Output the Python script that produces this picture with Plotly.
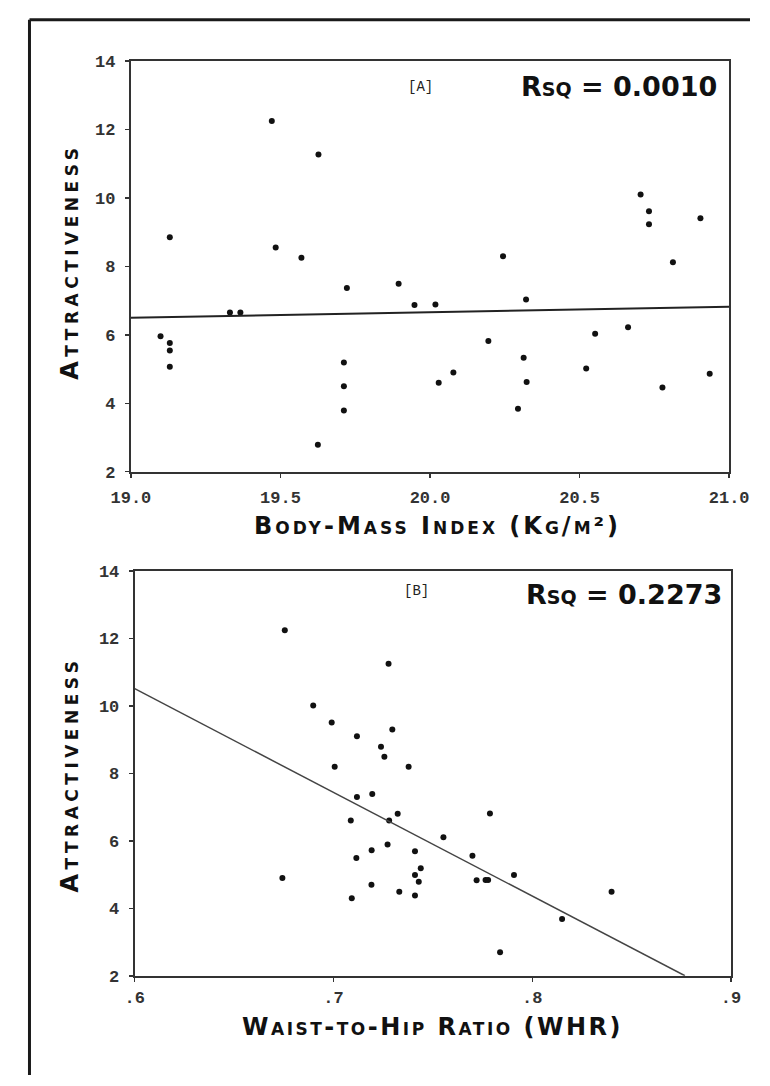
import plotly.graph_objects as go

W, H = 770, 1086
OFF = 0

# ---------------- Data ----------------
bmi = [19.099, 19.13, 19.13, 19.13, 19.13, 19.331, 19.366, 19.471, 19.484, 19.57,
       19.627, 19.625, 19.712, 19.712, 19.712, 19.722, 19.895, 19.948,
       20.018, 20.244, 20.321, 20.704, 20.732, 20.732, 20.904, 20.812, 20.195,
       20.313, 20.323, 20.294, 20.029, 20.078, 20.552, 20.522, 20.662, 20.777, 20.935]
attr_a = [5.96, 8.85, 5.76, 5.54, 5.07, 6.65, 6.65, 12.25, 8.55, 8.25,
          11.27, 2.79, 5.19, 4.50, 3.79, 7.37, 7.49, 6.87,
          6.89, 8.30, 7.03, 10.10, 9.61, 9.23, 9.41, 8.12, 5.82,
          5.33, 4.62, 3.84, 4.60, 4.90, 6.03, 5.02, 6.22, 4.46, 4.86]

whr = [0.6755, 0.6743, 0.6898, 0.6991, 0.7006, 0.7118, 0.7118, 0.7087, 0.7115, 0.7092,
       0.7192, 0.7191, 0.7195, 0.7239, 0.7256, 0.7277, 0.7296, 0.7280, 0.7323, 0.7272,
       0.7331, 0.7378, 0.7410, 0.7410, 0.7410, 0.7553, 0.7439, 0.7429, 0.7787, 0.7699,
       0.7720, 0.7765, 0.7778, 0.7908, 0.8150, 0.8399, 0.7838]
attr_b = [12.24, 4.90, 10.01, 9.51, 8.20, 9.10, 7.30, 6.60, 5.49, 4.30,
          5.72, 4.70, 7.39, 8.79, 8.49, 11.25, 9.30, 6.60, 6.80, 5.89,
          4.49, 8.20, 5.69, 4.99, 4.38, 6.11, 5.19, 4.79, 6.81, 5.56,
          4.83, 4.84, 4.84, 4.99, 3.68, 4.49, 2.70]

fit_a_x = [19.0, 21.0]
fit_a_y = [6.50, 6.82]
fit_b_x = [0.6, 0.8768]
fit_b_y = [10.51, 2.0]

ytick_vals = [2, 4, 6, 8, 10, 12, 14]
bmi_ticks = [19.0, 19.5, 20.0, 20.5, 21.0]
bmi_ticktext = ["19.0", "19.5", "20.0", "20.5", "21.0"]
whr_ticks = [0.6, 0.7, 0.8, 0.9]
whr_ticktext = [".6", ".7", ".8", ".9"]

label_a = "[A]"
label_b = "[B]"
rsq_a = "Rsq = 0.0010"
rsq_b = "Rsq = 0.2273"
ytitle = "Attractiveness"
xtitle_a = "Body-Mass Index (Kg/m²)"
xtitle_b = "Waist-to-Hip Ratio (WHR)"


def px(x):
    return (x - OFF) / W


def py(y):
    return 1 - (y - OFF) / H


def spaced(t, s):
    return "<span style='letter-spacing:%spx'>%s</span>" % (s, t)


fig = go.Figure()

fig.add_trace(go.Scatter(x=bmi, y=attr_a, mode="markers", xaxis="x", yaxis="y",
                         marker=dict(color="#111", size=6), showlegend=False,
                         cliponaxis=False, hoverinfo="skip"))
fig.add_trace(go.Scatter(x=fit_a_x, y=fit_a_y, mode="lines", xaxis="x", yaxis="y",
                         line=dict(color="#222", width=2), showlegend=False,
                         hoverinfo="skip"))
fig.add_trace(go.Scatter(x=whr, y=attr_b, mode="markers", xaxis="x2", yaxis="y2",
                         marker=dict(color="#111", size=6), showlegend=False,
                         cliponaxis=False, hoverinfo="skip"))
fig.add_trace(go.Scatter(x=fit_b_x, y=fit_b_y, mode="lines", xaxis="x2", yaxis="y2",
                         line=dict(color="#444", width=1.5), showlegend=False,
                         hoverinfo="skip"))

tickfont = dict(family="Liberation Mono", size=17, color="#333", weight="bold")
axis_common = dict(showline=True, mirror=True, linecolor="#333", linewidth=2,
                   showgrid=False, zeroline=False, ticks="outside", ticklen=4,
                   tickcolor="#333", tickwidth=1.5, tickfont=tickfont)

fig.update_layout(
    width=W, height=H,
    margin=dict(l=0, r=0, t=0, b=0),
    paper_bgcolor="white", plot_bgcolor="white",
    hovermode=False,
    xaxis=dict(domain=[px(117), px(748)], range=[19.0, 21.0], anchor="y",
               tickvals=bmi_ticks, ticktext=bmi_ticktext, ticklabelstandoff=5,
               **axis_common),
    yaxis=dict(domain=[py(472), py(54)], range=[2, 14], anchor="x",
               tickvals=ytick_vals, ticklabelstandoff=6, **axis_common),
    xaxis2=dict(domain=[px(121), px(750)], range=[0.6, 0.9], anchor="y2",
                tickvals=whr_ticks, ticktext=whr_ticktext, ticklabelstandoff=1,
                **axis_common),
    yaxis2=dict(domain=[py(985), py(573)], range=[2, 14], anchor="x2",
                tickvals=ytick_vals, ticklabelstandoff=6, **axis_common),
)

title_font = dict(family="DejaVu Sans", size=24, color="#111", weight="bold",
                  variant="small-caps")
rsq_font = dict(family="DejaVu Sans", size=27, color="#111", weight="bold",
                variant="small-caps")
lab_font = dict(family="Liberation Mono", size=14, color="#222")

ann = []
ann.append(dict(x=px(422), y=py(80), text=label_a, font=lab_font))
ann.append(dict(x=px(418), y=py(593), text=label_b, font=lab_font))
ann.append(dict(x=px(632), y=py(80), text=rsq_a, font=rsq_font))
ann.append(dict(x=px(637), y=py(597), text=rsq_b, font=rsq_font))
ann.append(dict(x=px(53), y=py(258), text=spaced(ytitle, 4.5), font=title_font, textangle=-90))
ann.append(dict(x=px(53), y=py(780), text=spaced(ytitle, 4.5), font=title_font, textangle=-90))
ann.append(dict(x=px(440), y=py(527), text=spaced(xtitle_a, 3), font=title_font))
ann.append(dict(x=px(435), y=py(1037), text=spaced(xtitle_b, 2.5), font=title_font))
for a in ann:
    a.update(xref="paper", yref="paper", showarrow=False, xanchor="center", yanchor="middle")
fig.update_layout(annotations=ann)

# outer frame of the figure page (top and left edges visible)
fig.add_shape(type="line", xref="paper", yref="paper",
              x0=px(10), x1=1.0, y0=py(12), y1=py(12),
              line=dict(color="#1a1a1a", width=3))
fig.add_shape(type="line", xref="paper", yref="paper",
              x0=px(10), x1=px(10), y0=py(12), y1=0.0,
              line=dict(color="#1a1a1a", width=3))

fig.write_html("out.html",
               config={"displayModeBar": False, "staticPlot": True},
               post_script="document.body.style.margin='0';"
                           "document.documentElement.style.overflow='hidden';")
